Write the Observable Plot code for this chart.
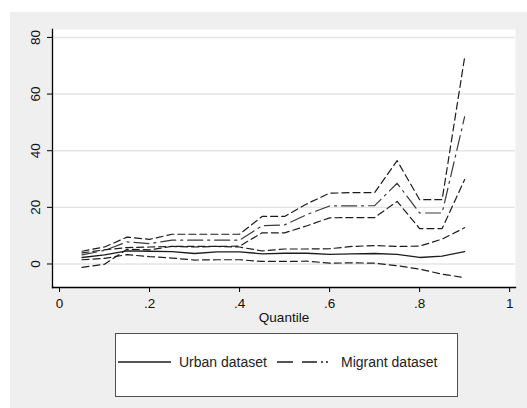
<!DOCTYPE html>
<html>
<head>
<meta charset="utf-8">
<script src="https://cdn.jsdelivr.net/npm/d3@7"></script>
<script src="https://cdn.jsdelivr.net/npm/@observablehq/plot@0.6"></script>
<style>
  html, body { margin: 0; padding: 0; background: #ffffff; }
  body { width: 527px; height: 408px; position: relative; overflow: hidden; font-family: "Liberation Sans", Arial, sans-serif; }
  #panel { position: absolute; left: 10px; top: 12px; width: 517px; height: 396px; background: #efefef; }
  #chart { position: absolute; left: 0; top: 0; }
  #legend { position: absolute; left: 115px; top: 333px; width: 341px; height: 62px; background: #ffffff; border: 1.5px solid #505050; box-sizing: content-box; }
  #legend svg { display: block; }
</style>
</head>
<body>
<div id="panel"></div>
<div id="chart"></div>
<div id="legend"></div>
<script>
// Quantiles (x axis)
const quantiles = [0.05, 0.10, 0.15, 0.20, 0.25, 0.30, 0.35, 0.40, 0.45, 0.50, 0.55, 0.60, 0.65, 0.70, 0.75, 0.80, 0.85, 0.90];

// Urban dataset: coefficient and confidence band
const urbanCoef  = [2.3, 3.2, 4.6, 4.5, 4.4, 3.7, 4.3, 4.3, 3.6, 3.8, 3.8, 3.4, 3.6, 3.7, 3.4, 2.3, 2.8, 4.4];
const urbanLower = [1.5, 2.0, 3.3, 2.6, 2.1, 1.4, 1.5, 1.5, 0.9, 0.9, 1.0, 0.3, 0.4, 0.3, -0.6, -1.8, -3.6, -4.8];
const urbanUpper = [3.9, 5.0, 5.8, 6.0, 6.2, 6.0, 6.2, 6.0, 4.6, 5.3, 5.3, 5.4, 6.2, 6.5, 6.2, 6.3, 8.8, 12.8];

// Migrant dataset: coefficient and confidence band
const migrantCoef  = [3.2, 4.8, 7.8, 7.2, 8.4, 8.4, 8.4, 8.4, 13.5, 13.8, 17.5, 20.5, 20.5, 20.6, 28.5, 18.0, 18.0, 52.0];
const migrantLower = [-1.2, -0.1, 5.2, 5.0, 6.2, 6.2, 6.2, 6.3, 11.0, 11.0, 13.5, 16.3, 16.4, 16.4, 22.1, 12.5, 12.5, 29.8];
const migrantUpper = [4.5, 6.0, 9.5, 8.7, 10.5, 10.5, 10.5, 10.5, 16.8, 16.8, 21.3, 25.0, 25.2, 25.2, 36.5, 22.7, 22.7, 73.0];

// Axis ticks
const xTicks = [0, 0.2, 0.4, 0.6, 0.8, 1];
const yTicks = [0, 20, 40, 60, 80];
const xLabel = "Quantile";
const legendLabels = ["Urban dataset", "Migrant dataset"];

const toRows = (vals) => quantiles.map((q, i) => ({q, v: vals[i]}));
const fmtX = d => d === 0 ? "0" : d === 1 ? "1" : String(d).replace(/^0/, "");

const ciDash = "7,4";
const migDash = "15,5,2,5";
const font = "Liberation Sans, Arial, sans-serif";

const chart = Plot.plot({
  width: 527,
  height: 330,
  marginLeft: 52,
  marginRight: 12,
  marginTop: 29,
  marginBottom: 43,
  style: {background: "transparent", fontFamily: font, fontSize: "13.5px", color: "#111"},
  x: {domain: [-0.0156, 1.013]},
  y: {domain: [-8.3, 82.8]},
  marks: [
    Plot.frame({fill: "#ffffff", stroke: "none"}),
    Plot.gridY(yTicks, {stroke: "#e4e4e4", strokeOpacity: 1, strokeWidth: 1.4}),
    // Urban
    Plot.line(toRows(urbanLower), {x: "q", y: "v", stroke: "#1c1c1c", strokeWidth: 1.2, strokeDasharray: ciDash}),
    Plot.line(toRows(urbanUpper), {x: "q", y: "v", stroke: "#1c1c1c", strokeWidth: 1.2, strokeDasharray: ciDash}),
    Plot.line(toRows(urbanCoef),  {x: "q", y: "v", stroke: "#1c1c1c", strokeWidth: 1.3}),
    // Migrant
    Plot.line(toRows(migrantLower), {x: "q", y: "v", stroke: "#1c1c1c", strokeWidth: 1.2, strokeDasharray: ciDash}),
    Plot.line(toRows(migrantUpper), {x: "q", y: "v", stroke: "#1c1c1c", strokeWidth: 1.2, strokeDasharray: ciDash}),
    Plot.line(toRows(migrantCoef),  {x: "q", y: "v", stroke: "#3a3a3a", strokeWidth: 1.2, strokeDasharray: migDash}),
    // Axes
    Plot.axisX(xTicks, {tickFormat: fmtX, tickSize: 5, tickPadding: 6, label: null, fontSize: 13.5, stroke: "#000"}),
    Plot.axisY(yTicks, {tickSize: 5, text: null, label: null, stroke: "#000"}),
    Plot.text(yTicks, {y: d => d, text: d => String(d), frameAnchor: "left", dx: -17, rotate: -90, textAnchor: "middle", lineAnchor: "middle", fontSize: 13.5, fill: "#111"}),
    Plot.text([xLabel], {text: d => d, frameAnchor: "bottom", dy: 30, lineAnchor: "middle", fontSize: 13.5, fill: "#111"}),
    Plot.frame({anchor: "left", stroke: "#000", strokeWidth: 1.3}),
    Plot.frame({anchor: "bottom", stroke: "#000", strokeWidth: 1.3})
  ]
});
document.getElementById("chart").appendChild(chart);

// Legend (keys drawn with the same stroke styles)
const lg = d3.select("#legend").append("svg").attr("width", 341).attr("height", 62);
lg.append("line").attr("x1", 2).attr("x2", 55).attr("y1", 28).attr("y2", 28)
  .attr("stroke", "#1c1c1c").attr("stroke-width", 1.4);
lg.append("text").attr("x", 63).attr("y", 28).attr("dy", "0.35em")
  .attr("font-family", font).attr("font-size", 14).attr("fill", "#222").text(legendLabels[0]);
lg.append("line").attr("x1", 161).attr("x2", 215).attr("y1", 28).attr("y2", 28)
  .attr("stroke", "#1c1c1c").attr("stroke-width", 1.4).attr("stroke-dasharray", "16,9,15,4,2,3,2,20");
lg.append("text").attr("x", 225).attr("y", 28).attr("dy", "0.35em")
  .attr("font-family", font).attr("font-size", 14).attr("fill", "#222").text(legendLabels[1]);
</script>
</body>
</html>
